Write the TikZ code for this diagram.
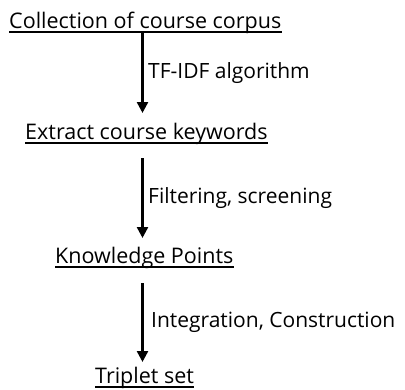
\documentclass[tikz,border=0pt]{standalone}
\usepackage{fontspec}
\setmainfont{Open Sans}
\usetikzlibrary{arrows.meta}
\begin{document}
\begin{tikzpicture}[x=1pt,y=-1pt,
  stage/.style={inner sep=0pt, anchor=base west, font=\fontsize{21.5}{24}\selectfont},
  lbl/.style={inner sep=0pt, anchor=west, font=\fontsize{21}{24}\selectfont},
  uline/.style={line width=1.1pt},
  arr/.style={line width=2.4pt, -{Triangle[length=11pt,width=11pt]}}]
\useasboundingbox (0,0) rectangle (405,389);
\node[stage] (s1) at (9,28) {Collection of course corpus};
\node[stage] (s2) at (25,139) {Extract course keywords};
\node[stage] (s3) at (55,263) {Knowledge Points};
\node[stage] (s4) at (95,383) {Triplet set};
\foreach \n in {s1,s2,s3,s4}
  \draw[uline] ([yshift=-4pt]\n.base west) -- ([yshift=-4pt]\n.base east);
\coordinate (a1s) at (142.5,33);  \coordinate (a1e) at (142.5,113);
\coordinate (a2s) at (142.5,158); \coordinate (a2e) at (142.5,238);
\coordinate (a3s) at (142.5,283); \coordinate (a3e) at (142.5,362);
\draw[arr] (a1s) -- (a1e);
\draw[arr] (a2s) -- (a2e);
\draw[arr] (a3s) -- (a3e);
\node[lbl] (l1) at (148,73) {TF-IDF algorithm};
\node[lbl] (l2) at (148,198) {Filtering, screening};
\node[lbl] (l3) at (151,322) {Integration, Construction};
\end{tikzpicture}
\end{document}
